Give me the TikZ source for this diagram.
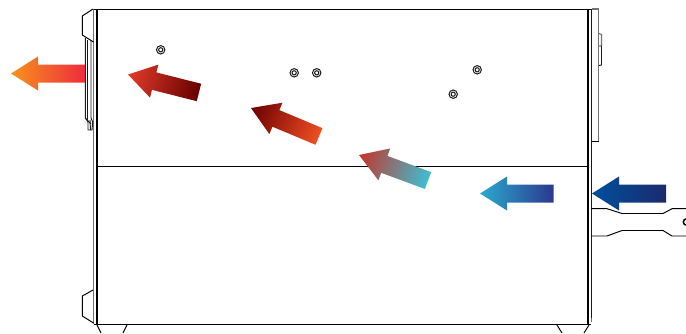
\documentclass[tikz,border=0pt]{standalone}
\tikzset{
  body/.style={line width=0.72pt,black},
  heavy/.style={line width=1.15pt,black},
  pale/.style={line width=0.85pt,black!55},
  fine/.style={line width=0.7pt,black!90},
  screw/.style={line width=0.75pt,black!90},
}
% tip x, tip y, angle, length, tip colour, tail colour
\newcommand{\flowarrow}[6]{%
  \definecolor{tipc}{HTML}{#5}\definecolor{tailc}{HTML}{#6}%
  \begin{scope}[transform canvas={shift={(#1,#2)},rotate=#3}]
    \shade[left color=tipc,right color=tailc]
      (0,0) -- (27,-17) -- (27,-9) -- (#4,-9) -- (#4,9) -- (27,9) -- (27,17) -- cycle;
  \end{scope}}
\newcommand{\screwat}[2]{%
  \draw[screw] (#1,#2) circle[radius=4.2] (#1,#2) circle[radius=2.1];}
\begin{document}
\begin{tikzpicture}[x=0.75pt,y=-0.75pt]
\useasboundingbox (0,0) rectangle (686,333);
% cabinet
\draw[body] (93.5,9) -- (591.5,9);
\draw[pale] (591.5,9) -- (598.7,9) -- (598.7,141);
\draw[body] (591.5,141) -- (598.7,141);
\draw[heavy] (96.8,9) -- (96.8,324);
\draw[pale] (93.5,9) -- (93.5,324);
\draw[heavy] (587.8,9) -- (587.8,324);
\draw[fine] (591.3,9) -- (591.3,318);
\draw[pale] (591.3,318) -- (591.3,322);
\draw[body] (93.5,324) -- (591.3,324);
\draw[body] (97,166) -- (588,166);
% right tab
\draw[pale] (599,33.5) -- (601.5,34.5) -- (601.5,46);
\draw[fine] (599,46) -- (601.5,46) -- (601.5,65) -- (599,65.5);
% upper left flange and handle
\draw[body] (93,9) -- (82.3,16) -- (82.3,35) -- (93.5,42);
\draw[fine] (85.3,38) -- (85.3,118) -- (88,122) -- (88,130) -- (92,130) -- (92.7,122) -- (91,118) -- (91,41);
\draw[fine] (87.5,39.5) -- (87.5,120);
\draw[fine] (90,120) -- (90.5,130);
\draw[fine] (85.3,118) -- (91,124);
% lower left flange
\draw[body] (93,290) -- (82.3,296) -- (82.3,316) -- (93.5,323);
% feet
\draw[body] (97,325) -- (101,333);
\draw[body] (127,325) -- (123,333);
\draw[body] (557,325) -- (562,333);
\draw[body] (589,325) -- (584,333);
% cable
\draw[body] (591,208.7) -- (607,208.7) -- (622,213.5) -- (663,213.5) -- (672,208.7) -- (686,208.7);
\draw[body] (591,236) -- (607,236) -- (622,230.5) -- (663,230.5) -- (672,236) -- (686,236);
\draw[line width=1.1pt] (686.5,222) circle[radius=3.2];
% screws
\screwat{160.7}{49.8}
\screwat{294.2}{72.8}
\screwat{316.7}{72.8}
\screwat{477.2}{69.8}
\screwat{453.2}{94.2}
% flow arrows
\flowarrow{11}{73.5}{0}{74}{F7931E}{EF2B3D}
\flowarrow{128}{74.5}{-14.2}{73.2}{E23B2A}{660000}
\flowarrow{251}{108}{-22.7}{73.7}{6B0000}{F04E23}
\flowarrow{359}{155}{-20.3}{73.6}{C5352A}{3DBFD3}
\flowarrow{480}{193.5}{0}{73.5}{2BA9CE}{2B3990}
\flowarrow{592}{193.5}{0}{74}{004F9F}{1B2A6B}
\end{tikzpicture}
\end{document}
